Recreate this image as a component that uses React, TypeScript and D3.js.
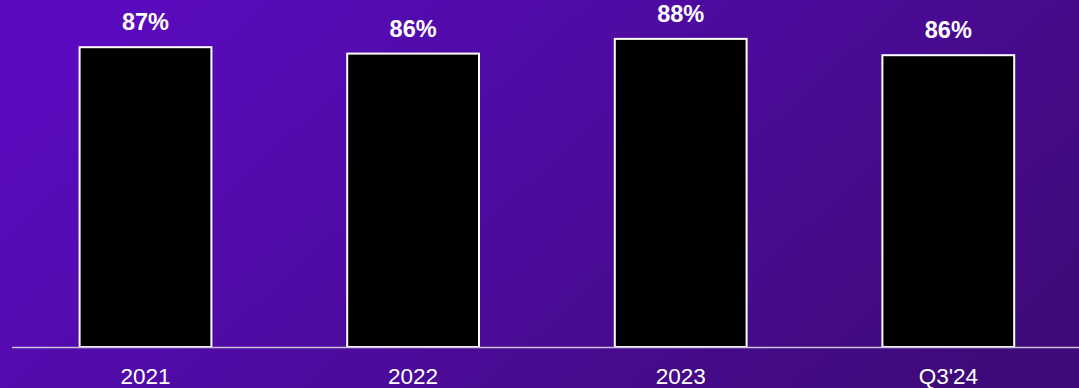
import React from "react";
import * as d3 from "d3";

const categories = ["2021", "2022", "2023", "Q3'24"];
const values = [87.0, 86.0, 88.3, 85.75];

const W = 1079;
const H = 388;

export default function App() {
  const x = d3.scaleBand<string>().domain(categories).range([11.7, 1082.1]).paddingInner(0.5).paddingOuter(0.25);
  const y = d3.scaleLinear().domain([40, 90]).range([347, 27]);
  const fmt = (v: number) => `${Math.round(v)}%`;
  const sw = 2;
  return (
    <svg width={W} height={H} style={{ position: "absolute", left: 0, top: 0, display: "block" }}>
      <defs>
        <linearGradient id="bg" x1="0" y1="0.3" x2="1" y2="0.7">
          <stop offset="0" stopColor="#5a0bbf" />
          <stop offset="1" stopColor="#3f0a7a" />
        </linearGradient>
      </defs>
      <rect x={0} y={0} width={W} height={H} fill="url(#bg)" />
      {categories.map((c, i) => {
        const x0 = x(c)! + sw / 2;
        const w = x.bandwidth() - sw;
        const top = y(values[i]) + sw / 2;
        return (
          <g key={c}>
            <rect x={x0} y={top} width={w} height={y(40) - top} fill="#000" stroke="#fff" strokeWidth={sw} />
            <text
              x={x(c)! + x.bandwidth() / 2}
              y={y(values[i]) - 16}
              textAnchor="middle"
              fill="#fff"
              fontFamily="'Liberation Sans', Arial, sans-serif"
              fontWeight="bold"
              fontSize={23.5}
            >
              {fmt(values[i])}
            </text>
            <text
              x={x(c)! + x.bandwidth() / 2}
              y={384}
              textAnchor="middle"
              fill="#fff"
              fontFamily="'Liberation Sans', Arial, sans-serif"
              fontSize={22.5}
            >
              {c}
            </text>
          </g>
        );
      })}
      <line x1={12} x2={W} y1={347.5} y2={347.5} stroke="#c9c3d9" strokeWidth={1.5} />
    </svg>
  );
}
